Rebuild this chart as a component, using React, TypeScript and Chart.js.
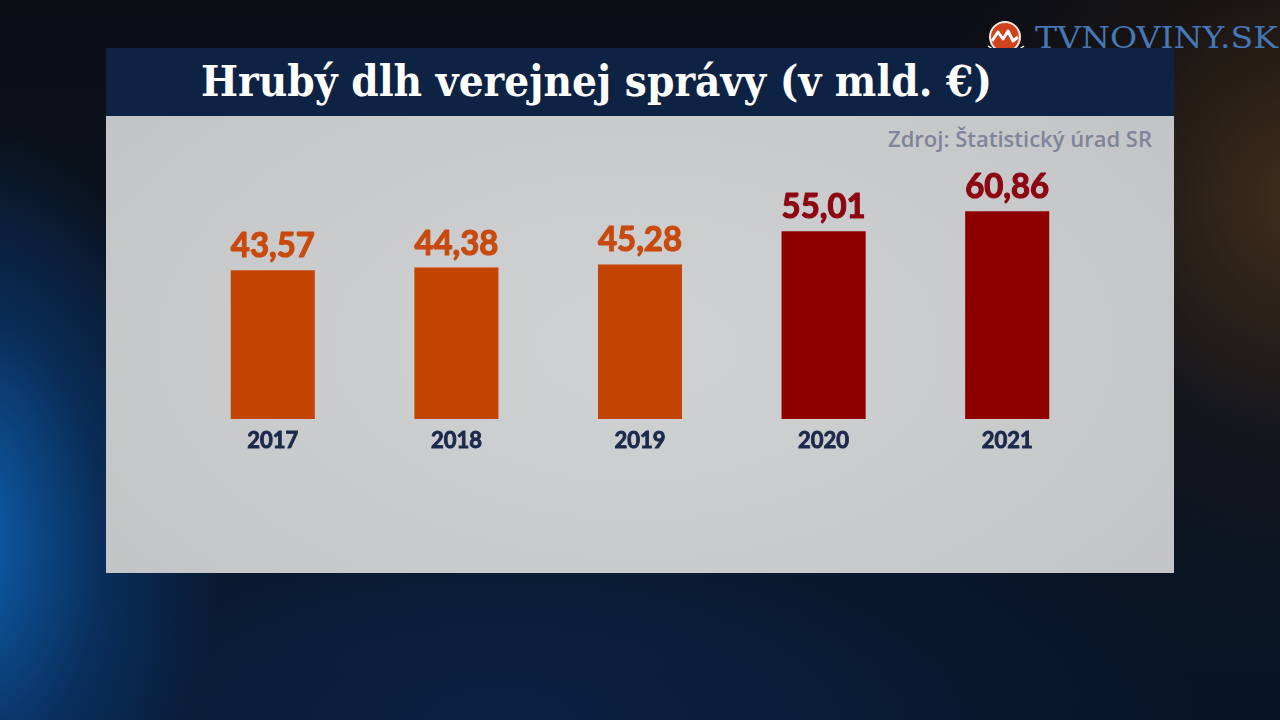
import React, { useEffect, useLayoutEffect, useRef } from "react";
import { Chart, registerables } from "chart.js";

Chart.register(...registerables);

// ---- data ----
const years = ["2017", "2018", "2019", "2020", "2021"];
const debt = [43.57, 44.38, 45.28, 55.01, 60.86];
const barColors = ["#c44403", "#c44403", "#c44403", "#8e0000", "#8e0000"];
const labelColors = ["#c84a0e", "#c84a0e", "#c84a0e", "#8c0712", "#8c0712"];
const titleText = "Hrubý dlh verejnej správy (v mld. €)";
const sourceText = "Zdroj: Štatistický úrad SR";
const logoText = "TVNOVINY.SK";

const fmt = (v: number) => v.toFixed(2).replace(".", ",");

const valueLabelPlugin = {
  id: "valueLabels",
  afterDatasetsDraw(chart: any) {
    const ctx = chart.ctx;
    const meta = chart.getDatasetMeta(0);
    ctx.save();
    ctx.font = "bold 34px Lato";
    ctx.textAlign = "center";
    ctx.textBaseline = "alphabetic";
    ctx.lineJoin = "round";
    meta.data.forEach((bar: any, i: number) => {
      ctx.fillStyle = labelColors[i];
      ctx.strokeStyle = labelColors[i];
      ctx.lineWidth = 1.2;
      const t = fmt(debt[i]);
      const w = ctx.measureText(t).width;
      const target = 84;
      ctx.save();
      ctx.translate(bar.x, bar.y - 13);
      ctx.scale(Math.min(1, target / w), 1);
      ctx.fillText(t, 0, 0);
      ctx.strokeText(t, 0, 0);
      ctx.restore();
    });
    ctx.restore();
  },
};

function FitText({ text, width, style }: { text: string; width: number; style: any }) {
  const ref = useRef<HTMLSpanElement>(null);
  useLayoutEffect(() => {
    const el = ref.current;
    if (!el) return;
    el.style.transform = "none";
    const w = el.getBoundingClientRect().width;
    if (w > 0) el.style.transform = `scaleX(${width / w})`;
  }, [text, width]);
  return (
    <span
      ref={ref}
      style={{ display: "inline-block", whiteSpace: "nowrap", transformOrigin: "left center", ...style }}
    >
      {text}
    </span>
  );
}

export default function App() {
  const canvasRef = useRef<HTMLCanvasElement>(null);

  useEffect(() => {
    if (!canvasRef.current) return;
    const chart = new Chart(canvasRef.current, {
      type: "bar",
      data: {
        labels: years,
        datasets: [
          {
            data: debt,
            backgroundColor: barColors,
            borderWidth: 0,
            barPercentage: 0.458,
            categoryPercentage: 1,
          },
        ],
      },
      options: {
        animation: false,
        responsive: true,
        maintainAspectRatio: false,
        layout: { padding: { left: 75, right: 75, top: 30, bottom: 114 } },
        plugins: { legend: { display: false }, tooltip: { enabled: false }, title: { display: false } },
        scales: {
          x: {
            grid: { display: false, drawTicks: false },
            border: { display: false },
            ticks: {
              color: "#1b2a4b",
              font: { family: "Lato", size: 22, weight: "bold" },
              textStrokeColor: "#1b2a4b",
              textStrokeWidth: 0.9,
              padding: 9,
            },
            afterFit: (axis: any) => {
              axis.height = 40;
            },
          },
          y: { display: false, min: 0, max: 80 },
        },
      },
      plugins: [valueLabelPlugin],
    });
    return () => chart.destroy();
  }, []);

  return (
    <div
      style={{
        position: "fixed",
        left: 0,
        top: 0,
        width: 1280,
        height: 720,
        overflow: "hidden",
        background:
          "radial-gradient(ellipse 260px 420px at -40px 540px, rgba(14,104,190,0.95), rgba(10,70,140,0.5) 55%, rgba(8,40,80,0) 100%)," +
          "radial-gradient(ellipse 380px 420px at 1300px 200px, rgba(95,60,25,0.65), rgba(50,32,15,0.3) 55%, rgba(0,0,0,0) 100%)," +
          "radial-gradient(ellipse 700px 300px at 500px 720px, rgba(12,40,80,0.7), rgba(0,0,0,0) 100%)," +
          "linear-gradient(180deg, #0b0e15 0%, #0a1322 55%, #081426 100%)",
      }}
    >
      {/* logo */}
      <div style={{ position: "absolute", left: 986, top: 19 }}>
        <svg width="40" height="36" viewBox="0 0 40 36">
          <circle cx="19" cy="18" r="15" fill="#d0431c" stroke="#f4e9e2" strokeWidth="2" />
          <path d="M6 22 L12 13 L17 20 L22 12 L27 22 L32 18" fill="none" stroke="#ffffff" strokeWidth="3" strokeLinejoin="round" />
          <path d="M2 27 Q10 33 20 33 Q30 33 38 27" fill="none" stroke="#ffffff" strokeWidth="1.5" />
        </svg>
      </div>
      <div style={{ position: "absolute", left: 1035, top: 19, height: 38, display: "flex", alignItems: "center" }}>
        <FitText
          text={logoText}
          width={243}
          style={{ fontFamily: "'DejaVu Serif', serif", fontSize: 29, color: "#4677b8", lineHeight: "38px" }}
        />
      </div>

      {/* title bar */}
      <div
        style={{
          position: "absolute",
          left: 106,
          top: 48,
          width: 1068,
          height: 68,
          background: "#0e2244",
        }}
      />
      <div style={{ position: "absolute", left: 201, top: 58, height: 48, display: "flex", alignItems: "center" }}>
        <FitText
          text={titleText}
          width={791}
          style={{
            fontFamily: "'DejaVu Serif', serif",
            fontWeight: "bold",
            fontSize: 42,
            color: "#ffffff",
            lineHeight: "48px",
          }}
        />
      </div>

      {/* panel */}
      <div
        style={{
          position: "absolute",
          left: 106,
          top: 116,
          width: 1068,
          height: 457,
          background: "radial-gradient(ellipse 700px 400px at 530px 230px, #d0d1d3 0%, #c9cacc 60%, #c2c3c6 100%)",
        }}
      >
        <div style={{ position: "absolute", left: 782, top: 8, height: 28, display: "flex", alignItems: "center" }}>
          <FitText
            text={sourceText}
            width={264}
            style={{
              fontFamily: "'Open Sans', sans-serif",
              fontWeight: 600,
              fontSize: 22,
              color: "#7f8499",
              lineHeight: "28px",
            }}
          />
        </div>
        <div style={{ position: "absolute", left: 0, top: 0, width: 1068, height: 457 }}>
          <canvas ref={canvasRef} />
        </div>
      </div>
    </div>
  );
}
